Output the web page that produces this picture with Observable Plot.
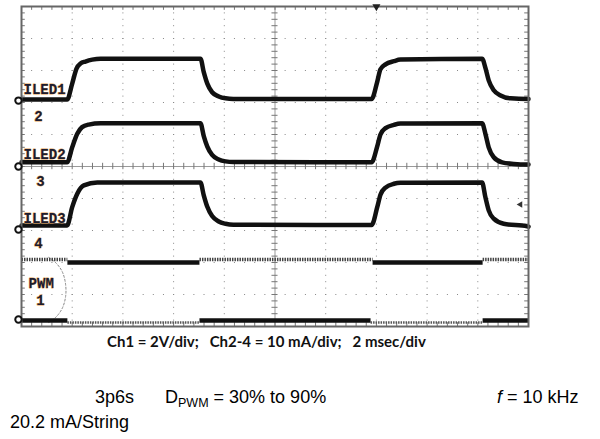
<!DOCTYPE html>
<html><head><meta charset="utf-8">
<script src="https://cdn.jsdelivr.net/npm/d3@7"></script>
<script src="https://cdn.jsdelivr.net/npm/@observablehq/plot@0.6"></script>
<style>
body{margin:0;background:#fff;}
#wrap{position:relative;width:600px;height:439px;overflow:hidden;background:#fff;}
#chart{position:absolute;left:0;top:0;}
.t{position:absolute;white-space:pre;font-family:"Liberation Sans",Arial,sans-serif;font-size:18px;line-height:18px;color:#000;}
.sub{font-size:12.5px;position:relative;top:4px;}
.cap{position:absolute;left:107px;top:335px;font-family:Lato,"Open Sans",sans-serif;font-weight:bold;font-size:15px;line-height:13px;white-space:pre;color:#111;}
</style></head>
<body><div id="wrap"><div id="chart"></div>
<div class="cap">Ch1 = 2V/div;   Ch2-4 = 10 mA/div;   2 msec/div</div>
<div class="t" style="left:95px;top:388px">3p6s</div>
<div class="t" style="left:165px;top:388px">D<span class="sub">PWM</span> = 30% to 90%</div>
<div class="t" style="left:497px;top:388px"><i>f</i> = 10 kHz</div>
<div class="t" style="left:10px;top:413px">20.2 mA/String</div>
</div>
<script>
// time in ms (2 ms/div, 10 div), vertical in divisions (0 = bottom, 10 = top)
const iled1 = [[0,7.09],[1.80,7.09],[2.00,7.59],[2.17,8.06],[2.33,8.22],[2.52,8.28],[2.79,8.34],[3.12,8.37],[7.06,8.37],[7.19,7.95],[7.33,7.59],[7.52,7.32],[7.78,7.19],[8.05,7.13],[8.36,7.11],[13.81,7.11],[14.03,7.64],[14.16,8.04],[14.36,8.19],[14.69,8.29],[14.95,8.34],[18.17,8.37],[18.30,8.08],[18.43,7.69],[18.63,7.38],[18.90,7.22],[19.29,7.13],[19.95,7.11],[20,7.11]];
const iled2 = [[0,5.13],[1.80,5.13],[2.00,5.60],[2.20,6.02],[2.39,6.23],[2.65,6.31],[3.12,6.35],[7.06,6.35],[7.19,5.95],[7.33,5.62],[7.52,5.36],[7.78,5.22],[8.05,5.16],[8.36,5.14],[13.81,5.13],[14.03,5.62],[14.16,6.00],[14.36,6.20],[14.69,6.30],[14.95,6.34],[18.17,6.35],[18.30,6.02],[18.43,5.60],[18.63,5.29],[18.96,5.13],[19.42,5.08],[19.95,5.06],[20,5.06]];
const iled3 = [[0,3.16],[1.80,3.16],[2.00,3.73],[2.20,4.15],[2.46,4.41],[2.99,4.50],[7.06,4.50],[7.19,4.10],[7.33,3.74],[7.52,3.45],[7.78,3.28],[8.05,3.21],[8.36,3.18],[13.81,3.17],[14.03,3.72],[14.16,4.12],[14.36,4.34],[14.69,4.46],[14.95,4.49],[18.17,4.50],[18.30,4.04],[18.43,3.63],[18.63,3.37],[19.02,3.21],[19.95,3.13],[20,3.12]];
// channel 4 and PWM: [t start, t end, level]
const ch4Thin  = [[0,1.81,2.09],[7.02,13.85,2.09],[18.19,20,2.09]];
const ch4Thick = [[1.81,7.02,2.00],[13.85,18.19,2.00]];
const pwmThin  = [[1.81,7.02,0.125],[13.77,18.19,0.125]];
const pwmThick = [[0,1.81,0.19],[7.02,13.77,0.19],[18.19,20,0.19]];
const wordLabels = ["ILED1","ILED2","ILED3","PWM"];
const wordT = [0.08,0.08,0.08,0.28];
const wordV = [7.41,5.375,3.375,1.34];
const numLabels = ["2","3","4","1"];
const numT = [0.67,0.75,0.67,0.75];
const numV = [6.56,4.53,2.59,0.81];
const groundLevels = [7.06,5.0,3.03,0.22];
const arc = [[1.07,2.16],[1.38,1.97],[1.62,1.69],[1.74,1.31],[1.74,0.94],[1.62,0.59],[1.38,0.31],[1.07,0.125]];

const words = wordLabels.map((s,i)=>({s, t: wordT[i], v: wordV[i]}));
const nums = numLabels.map((s,i)=>({s, t: numT[i], v: numV[i]}));
const gridX = d3.range(2,20,2).filter(d=>d!==10);
const gridY = d3.range(1,10,1).filter(d=>d!==5);
const minorX = d3.range(0,20.001,0.4);
const minorY = d3.range(0,10.001,0.2);
const labelStyle = {fontFamily:"Liberation Mono, monospace", fontWeight:"bold", fontSize:14, fill:"#1c1c30", stroke:"#e2a050", strokeWidth:0.8, paintOrder:"stroke"};
const segLink = (arr, style) => Plot.link(arr, {x1:d=>d[0], x2:d=>d[1], y1:d=>d[2], y2:d=>d[2], ...style});

const plot = Plot.plot({
  width: 600, height: 332,
  marginLeft: 21, marginRight: 72, marginTop: 6, marginBottom: 6,
  x: {domain: [0,20], axis: null},
  y: {domain: [0,10], axis: null},
  marks: [
    Plot.ruleX(gridX, {stroke:"#888", strokeWidth:1, strokeDasharray:"1,5.4"}),
    Plot.ruleY(gridY, {stroke:"#888", strokeWidth:1, strokeDasharray:"1,9.14"}),
    Plot.ruleX([10], {stroke:"#999", strokeWidth:1}),
    Plot.ruleY([5], {stroke:"#999", strokeWidth:1}),
    Plot.ruleX(minorX, {x:d=>d, y1:10, y2:9.88, stroke:"#777"}),
    Plot.ruleX(minorX, {x:d=>d, y1:0, y2:0.12, stroke:"#777"}),
    Plot.ruleX(minorX, {x:d=>d, y1:4.9, y2:5.1, stroke:"#777"}),
    Plot.ruleY(minorY, {y:d=>d, x1:0, x2:0.15, stroke:"#777"}),
    Plot.ruleY(minorY, {y:d=>d, x1:19.85, x2:20, stroke:"#777"}),
    Plot.ruleY(minorY, {y:d=>d, x1:9.88, x2:10.12, stroke:"#777"}),
    Plot.line(arc, {x:d=>d[0], y:d=>d[1], curve:"catmull-rom", stroke:"#888", strokeWidth:1, strokeDasharray:"2,2"}),
    segLink(ch4Thin, {stroke:"#444", strokeWidth:3.5, strokeDasharray:"1.5,1"}),
    segLink(ch4Thick, {stroke:"#111", strokeWidth:4.5}),
    segLink(pwmThin, {stroke:"#555", strokeWidth:2.5, strokeDasharray:"1.5,1"}),
    segLink(pwmThick, {stroke:"#111", strokeWidth:4.5}),
    ...[iled1, iled2, iled3].map(tr => Plot.line(tr, {x:d=>d[0], y:d=>d[1], curve:"monotone-x", stroke:"#111", strokeWidth:4.5})),
    Plot.text(words, {x:"t", y:"v", text:"s", textAnchor:"start", ...labelStyle}),
    Plot.text(nums, {x:"t", y:"v", text:"s", textAnchor:"middle", ...labelStyle}),
    Plot.frame({stroke:"#666", strokeWidth:2}),
    Plot.dot(groundLevels, {x:-0.12, y:d=>d, r:3.2, fill:"#fff", stroke:"#111", strokeWidth:2}),
    Plot.dot([14.0], {x:d=>d, y:10, symbol:"triangle", rotate:180, r:3, fill:"#222"}),
    Plot.dot([3.81], {x:19.68, y:d=>d, symbol:"triangle", rotate:-90, r:2.4, fill:"#333"})
  ]
});
document.getElementById("chart").appendChild(plot);
</script>
</body></html>
